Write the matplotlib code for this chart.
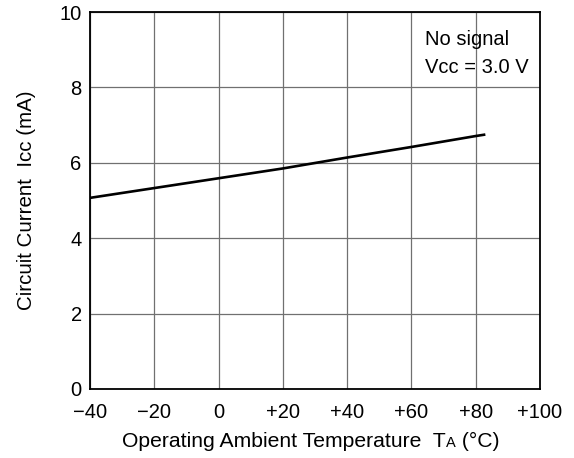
import matplotlib
matplotlib.use("Agg")
import matplotlib.pyplot as plt
from matplotlib.offsetbox import TextArea, HPacker, AnnotationBbox

plt.rcParams['font.family'] = ['Liberation Sans', 'DejaVu Sans']

# curve
temp = [-40, -20, 0, 20, 40, 60, 80, 83]
icc = [5.07, 5.33, 5.59, 5.85, 6.14, 6.42, 6.71, 6.75]

x_ticks = [-40, -20, 0, 20, 40, 60, 80, 100]
x_labels = ['\u221240', '\u221220', '0', '+20', '+40', '+60', '+80', '+100']
y_ticks = [0, 2, 4, 6, 8, 10]

fs = 14.5

fig = plt.figure(figsize=(5.74, 4.58), dpi=100)
ax = fig.add_axes([90 / 574, 69 / 458, 450 / 574, 377 / 458])

ax.plot(temp, icc, color='black', lw=1.9, solid_capstyle='butt')

ax.set_xlim(-40, 100)
ax.set_ylim(0, 10)
ax.set_xticks(x_ticks)
ax.set_xticklabels(x_labels)
ax.set_yticks(y_ticks)
ax.grid(True, color='#707070', lw=0.9)
ax.set_axisbelow(True)
ax.tick_params(length=0, labelsize=fs, colors='black')
ax.tick_params(axis='x', pad=10)
ax.tick_params(axis='y', pad=6)
for s in ax.spines.values():
    s.set_linewidth(1.3)
    s.set_color('black')

ax.set_ylabel('Circuit Current  Icc (mA)', fontsize=14.8, labelpad=17)

# x label with small "A" in T_A
parts = [TextArea('Operating Ambient Temperature  T', textprops=dict(size=15.2)),
         TextArea('A', textprops=dict(size=10.5)),
         TextArea(' (\u00b0C)', textprops=dict(size=15.2))]
box = HPacker(children=parts, align='baseline', pad=0, sep=0)
ab = AnnotationBbox(box, (0.49, -0.115), xycoords='axes fraction',
                    box_alignment=(0.5, 1.0), frameon=False, pad=0)
ax.add_artist(ab)

ax.text(64.2, 9.12, 'No signal', fontsize=fs, va='baseline', ha='left')
ax.text(64.2, 8.38, 'Vcc = 3.0 V', fontsize=fs, va='baseline', ha='left')

fig.savefig('out.png', dpi=100)
